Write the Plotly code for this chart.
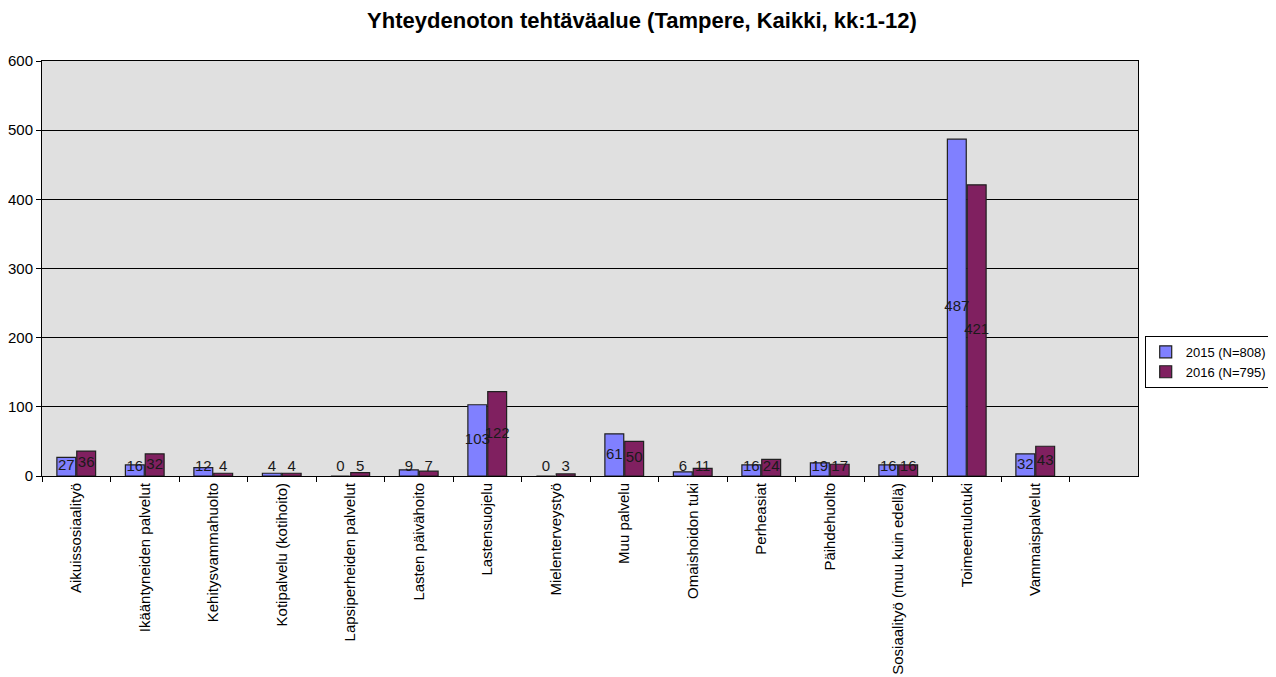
import plotly.graph_objects as go

categories = ["Aikuissosiaalityö", "Ikääntyneiden palvelut", "Kehitysvammahuolto",
              "Kotipalvelu (kotihoito)", "Lapsiperheiden palvelut", "Lasten päivähoito",
              "Lastensuojelu", "Mielenterveystyö", "Muu palvelu", "Omaishoidon tuki",
              "Perheasiat", "Päihdehuolto", "Sosiaalityö (muu kuin edellä)",
              "Toimeentulotuki", "Vammaispalvelut"]
values_2015 = [27, 16, 12, 4, 0, 9, 103, 0, 61, 6, 16, 19, 16, 487, 32]
values_2016 = [36, 32, 4, 4, 5, 7, 122, 3, 50, 11, 24, 17, 16, 421, 43]
series_names = ["2015 (N=808)", "2016 (N=795)"]
colors = ["#8080FF", "#802060"]
title = "Yhteydenoton tehtäväalue (Tampere, Kaikki, kk:1-12)"

FONT = "Liberation Sans, Arial, sans-serif"
BARGAP = 0.42
fig = go.Figure()
for i, (name, vals, col) in enumerate(zip(series_names, [values_2015, values_2016], colors)):
    fig.add_trace(go.Bar(
        x=categories, y=vals, name=name, offsetgroup=str(i),
        marker=dict(color=col, line=dict(color="#202020", width=1.2)),
    ))
# value labels centred on bars (lifted slightly for very short bars)
for i, vals in enumerate([values_2015, values_2016]):
    fig.add_trace(go.Scatter(
        x=categories, y=[max(v / 2, 13) for v in vals], mode="text",
        text=[str(v) for v in vals], textposition="middle center",
        textfont=dict(family=FONT, size=15, color="#1a1a1a"),
        offsetgroup=str(i), showlegend=False, hoverinfo="skip", cliponaxis=False,
    ))

# the page body adds an 8px offset, so the figure is 8px smaller and margins shifted
fig.update_layout(
    width=1268, height=669,
    paper_bgcolor="white", plot_bgcolor="#E0E0E0",
    barmode="group", bargap=BARGAP, bargroupgap=0.05,
    scattermode="group", scattergap=BARGAP,
    margin=dict(l=34, r=138, t=53, b=201, autoexpand=False),
    title=dict(text="<b>" + title + "</b>", x=0.5, xanchor="center",
               xref="container", yref="container", y=0.981, yanchor="middle",
               font=dict(family=FONT, size=22, color="#000000")),
    font=dict(family=FONT, size=15, color="#000000"),
    legend=dict(x=1.122, xanchor="right", y=0.275, yanchor="middle",
                bordercolor="#000000", borderwidth=1, bgcolor="white",
                font=dict(family=FONT, size=13, color="#000000"),
                itemwidth=30),
    showlegend=True,
)
fig.update_xaxes(
    type="category", range=[-0.5, 15.5], tickangle=-90, automargin=False,
    tickson="boundaries", ticks="outside", ticklen=5, tickcolor="#000000",
    showline=True, mirror=True, linecolor="#000000", linewidth=1, showgrid=False,
    tickfont=dict(family=FONT, size=15, color="#000000"),
)
fig.update_yaxes(
    range=[0, 600], dtick=100, ticks="outside", ticklen=5, tickcolor="#000000",
    automargin=False,
    showline=True, mirror=True, linecolor="#000000", linewidth=1,
    showgrid=True, gridcolor="#000000", gridwidth=1, zeroline=False,
    tickfont=dict(family=FONT, size=15, color="#000000"),
)
fig.write_html("out.html")
